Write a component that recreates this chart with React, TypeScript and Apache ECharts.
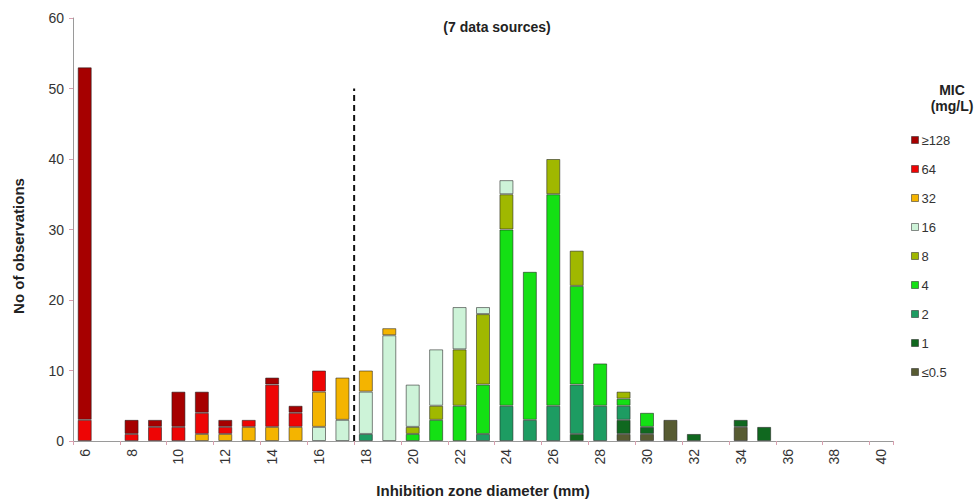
import React, { useEffect, useRef } from "react";
import * as echarts from "echarts";

// Inhibition zone diameter categories (mm)
const categories: string[] = [
  "6", "7", "8", "9", "10", "11", "12", "13", "14", "15", "16", "17", "18", "19", "20",
  "21", "22", "23", "24", "25", "26", "27", "28", "29", "30", "31", "32", "33", "34", "35",
  "36", "37", "38", "39", "40",
];

// MIC classes, bottom of stack first
const micLe05: number[] = [0,0,0,0,0,0,0,0,0,0,0,0,0,0,0,0,0,0,0,0,0,0,0,1,1,3,0,0,2,0,0,0,0,0,0];
const mic1: number[]    = [0,0,0,0,0,0,0,0,0,0,0,0,0,0,0,0,0,0,0,0,0,1,0,2,1,0,1,0,1,2,0,0,0,0,0];
const mic2: number[]    = [0,0,0,0,0,0,0,0,0,0,0,0,1,0,0,0,0,1,5,3,5,7,5,2,0,0,0,0,0,0,0,0,0,0,0];
const mic4: number[]    = [0,0,0,0,0,0,0,0,0,0,0,0,0,0,1,3,5,7,25,21,30,14,6,1,2,0,0,0,0,0,0,0,0,0,0];
const mic8: number[]    = [0,0,0,0,0,0,0,0,0,0,0,0,0,0,1,2,8,10,5,0,5,5,0,1,0,0,0,0,0,0,0,0,0,0,0];
const mic16: number[]   = [0,0,0,0,0,0,0,0,0,0,2,3,6,15,6,8,6,1,2,0,0,0,0,0,0,0,0,0,0,0,0,0,0,0,0];
const mic32: number[]   = [0,0,0,0,0,1,1,2,2,2,5,6,3,1,0,0,0,0,0,0,0,0,0,0,0,0,0,0,0,0,0,0,0,0,0];
const mic64: number[]   = [3,0,1,2,2,3,1,1,6,2,3,0,0,0,0,0,0,0,0,0,0,0,0,0,0,0,0,0,0,0,0,0,0,0,0];
const mic128: number[]  = [50,0,2,1,5,3,1,0,1,1,0,0,0,0,0,0,0,0,0,0,0,0,0,0,0,0,0,0,0,0,0,0,0,0,0];

const micNames: string[] = ["≤0.5", "1", "2", "4", "8", "16", "32", "64", "≥128"];
const micSeries: number[][] = [micLe05, mic1, mic2, mic4, mic8, mic16, mic32, mic64, mic128];
const micColors: string[] = [
  "#575b32", "#10681f", "#1d9c62", "#14e014", "#a0b800", "#cdf3d8", "#f4b400", "#ee0505", "#a60000",
];
const legendOrder: string[] = ["≥128", "64", "32", "16", "8", "4", "2", "1", "≤0.5"];

// Breakpoint between 17 and 18 mm (category index position)
const breakpointIndex = 11.5;
const breakpointTop = 50;

const yTicks = { min: 0, max: 60, interval: 10 };

const FONT = "Liberation Sans, Arial, Helvetica, sans-serif";

export default function App() {
  const ref = useRef<HTMLDivElement>(null);

  useEffect(() => {
    document.body.style.margin = "0";
    if (!ref.current) return;
    const chart = echarts.init(ref.current, undefined, { renderer: "svg" });

    const barSeries = micSeries.map((arr, i) => ({
      name: micNames[i],
      type: "bar",
      stack: "mic",
      xAxisIndex: 0,
      yAxisIndex: 0,
      barWidth: 14,
      data: arr.map((v) => (v > 0 ? v : null)),
      itemStyle: {
        color: micColors[i],
        borderColor: "rgba(30,30,30,0.55)",
        borderWidth: 1,
      },
      emphasis: { disabled: true },
    }));

    chart.setOption({
      animation: false,
      textStyle: { fontFamily: FONT },
      title: {
        text: "(7 data sources)",
        left: 492,
        textAlign: "center",
        top: 15,
        textStyle: { fontSize: 14, fontWeight: "bold", color: "#222", fontFamily: FONT },
      },
      grid: { left: 73, right: 81, top: 18, bottom: 60, containLabel: false },
      legend: {
        orient: "vertical",
        left: 906,
        top: 127,
        itemWidth: 7,
        itemHeight: 7,
        itemGap: 13,
        icon: "rect",
        data: legendOrder,
        textStyle: { fontSize: 13, color: "#333", lineHeight: 16, padding: [0, 0, 0, -2], fontFamily: FONT },
        itemStyle: { borderColor: "rgba(30,30,30,0.5)", borderWidth: 1 },
        selectedMode: false,
      },
      graphic: [
        {
          type: "text",
          x: 952,
          y: 82,
          style: {
            text: "MIC\n(mg/L)",
            font: "bold 14px " + FONT,
            fill: "#222",
            align: "center",
            verticalAlign: "top",
            lineHeight: 16,
          },
        },
        {
          type: "text",
          x: 18,
          y: 246,
          rotation: Math.PI / 2,
          style: {
            text: "No of observations",
            font: "bold 15px " + FONT,
            fill: "#222",
            align: "center",
            verticalAlign: "middle",
          },
        },
      ],
      xAxis: [
        {
          type: "category",
          data: categories,
          name: "Inhibition zone diameter (mm)",
          nameLocation: "middle",
          nameGap: 42,
          nameTextStyle: { fontSize: 15, fontWeight: "bold", color: "#222", fontFamily: FONT },
          axisLine: { lineStyle: { color: "#9a9a9a", width: 1 } },
          axisTick: { show: true, length: 4, lineStyle: { color: "#d9a0b0" } },
          axisLabel: {
            interval: 1,
            rotate: 90,
            fontSize: 14,
            color: "#333",
            margin: 8,
            fontFamily: FONT,
          },
          splitLine: { show: false },
        },
        {
          type: "value",
          min: -0.5,
          max: 34.5,
          show: false,
        },
      ],
      yAxis: {
        type: "value",
        min: yTicks.min,
        max: yTicks.max,
        interval: yTicks.interval,
        axisLine: { show: true, onZero: false, lineStyle: { color: "#9a9a9a", width: 1 } },
        axisTick: { show: true, length: 4, lineStyle: { color: "#d9a0b0" } },
        axisLabel: { fontSize: 14, color: "#333", margin: 9, fontFamily: FONT },
        splitLine: { show: false },
      },
      series: [
        ...barSeries,
        {
          name: "breakpoint",
          type: "line",
          xAxisIndex: 1,
          yAxisIndex: 0,
          data: [
            [breakpointIndex, 0],
            [breakpointIndex, breakpointTop],
          ],
          symbol: "none",
          lineStyle: { color: "#111", width: 2, type: [6, 4] },
          silent: true,
          z: 5,
        },
      ],
    });

    return () => chart.dispose();
  }, []);

  return <div ref={ref} style={{ width: 974, height: 503 }} />;
}
